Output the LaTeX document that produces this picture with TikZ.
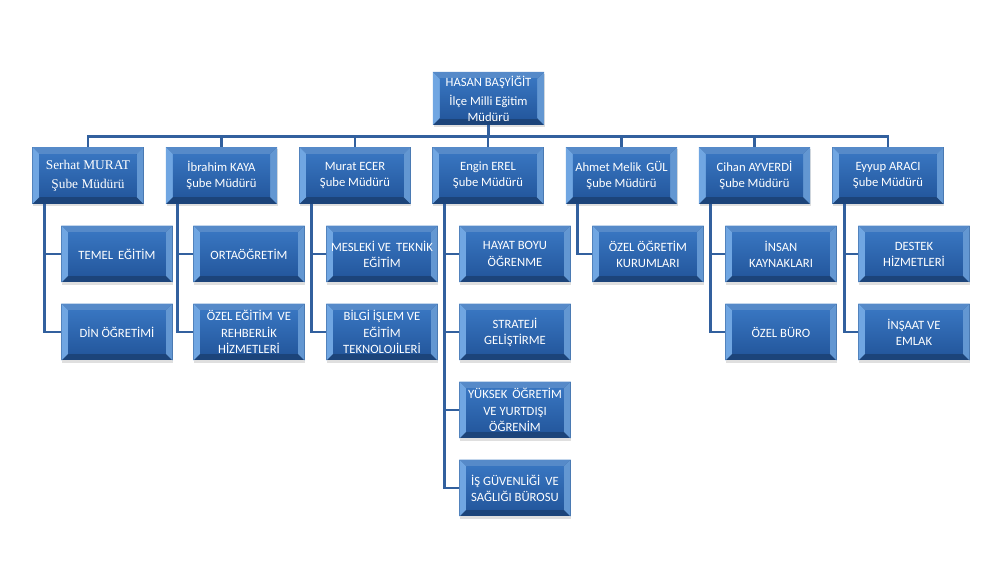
\documentclass[tikz,border=0pt]{standalone}
\usepackage{fontspec}
\setmainfont{Carlito}
\newfontfamily\timesfont{Liberation Serif}
\usetikzlibrary{shadows}

\definecolor{boxedge}{RGB}{28,68,122}
\definecolor{boxtop}{RGB}{56,117,192}
\definecolor{boxbot}{RGB}{36,88,158}
\definecolor{bevlight}{RGB}{112,166,226}
\definecolor{linkblue}{RGB}{50,96,158}

\tikzset{
  kutu/.style={fill=boxedge, text=white, align=center, inner sep=1pt,
    minimum width=2.78cm, minimum height=1.42cm,
    font=\fontsize{9}{11.5}\selectfont,
    drop shadow={opacity=0.25, shadow xshift=0.5pt, shadow yshift=-1.5pt},
    path picture={
      \path (path picture bounding box.north west) coordinate (pa)
            (path picture bounding box.south east) coordinate (pb);
      \fill[boxtop!85!white] (pa) -- (pa-|pb) -- ([shift={(-5pt,-5pt)}]pa-|pb) -- ([shift={(5pt,-5pt)}]pa) -- cycle;
      \fill[bevlight] (pa) -- ([shift={(5pt,-5pt)}]pa) -- ([shift={(5pt,5pt)}]pa|-pb) -- (pa|-pb) -- cycle;
      \fill[bevlight!85!boxedge] (pa-|pb) -- ([shift={(-5pt,-5pt)}]pa-|pb) -- ([shift={(-5pt,5pt)}]pb) -- (pb) -- cycle;
      \shade[top color=boxtop, bottom color=boxbot] ([shift={(5pt,-5pt)}]pa) rectangle ([shift={(-5pt,5pt)}]pb);
    }},
  link/.style={draw=linkblue, line width=2.1pt}
}

\begin{document}
\begin{tikzpicture}[x=0.025cm,y=-0.025cm]
            \useasboundingbox (0,0) rectangle (1002,564);
            % mudur
            \node[kutu,minimum height=1.33cm] (top) at (488.5,98.5)
            {HASAN BAŞYİĞİT\\[2pt]İlçe Milli Eğitim\\Müdürü};
            % sube mudurleri
            \node[kutu,font=\timesfont\fontsize{9.5}{13.5}\selectfont] (m1) at (88,175.5) {Serhat MURAT\\Şube Müdürü};
            \node[kutu] (m2) at (221.5,175.5) {İbrahim KAYA\\Şube Müdürü};
            \node[kutu] (m3) at (355,175.5) {Murat ECER\\Şube Müdürü};
            \node[kutu] (m4) at (488,175.5) {Engin EREL\\Şube Müdürü};
            \node[kutu] (m5) at (621.5,175.5) {Ahmet Melik\, GÜL\\Şube Müdürü};
            \node[kutu] (m6) at (754.5,175.5) {Cihan AYVERDİ\\Şube Müdürü};
            \node[kutu] (m7) at (888,175.5) {Eyyup ARACI\\Şube Müdürü};
            % birimler
            \node[kutu] (b11) at (117,254) {TEMEL\, EĞİTİM};
            \node[kutu] (b12) at (117,332) {DİN ÖĞRETİMİ};
            \node[kutu] (b21) at (249,254) {ORTAÖĞRETİM};
            \node[kutu] (b22) at (249,332) {ÖZEL EĞİTİM\, VE\\REHBERLİK\\HİZMETLERİ};
            \node[kutu] (b31) at (382,254) {MESLEKİ VE\, TEKNİK\\EĞİTİM};
            \node[kutu] (b32) at (382,332) {BİLGİ İŞLEM VE\\EĞİTİM\\TEKNOLOJİLERİ};
            \node[kutu] (b41) at (515,254) {HAYAT BOYU\\ÖĞRENME};
            \node[kutu] (b42) at (515,332) {STRATEJİ\\GELİŞTİRME};
            \node[kutu] (b43) at (515,410) {YÜKSEK\, ÖĞRETİM\\VE YURTDIŞI\\ÖĞRENİM};
            \node[kutu] (b44) at (515,488) {İŞ GÜVENLİĞİ\, VE\\SAĞLIĞI BÜROSU};
            \node[kutu] (b51) at (648,254) {ÖZEL ÖĞRETİM\\KURUMLARI};
            \node[kutu] (b61) at (781,254) {İNSAN\\KAYNAKLARI};
            \node[kutu] (b62) at (781,332) {ÖZEL BÜRO};
            \node[kutu] (b71) at (914,254) {DESTEK\\HİZMETLERİ};
            \node[kutu] (b72) at (914,332) {İNŞAAT VE\\EMLAK};
            % baglantilar
            \foreach \m in {m1,m2,m3,m4,m5,m6,m7}
              \draw[link] (top.south) -- ++(0,11) -| (\m.north);
            \draw[link] ([xshift=0.3cm]m1.south west) |- (b11.west) ([xshift=0.3cm]m1.south west) |- (b12.west);
            \draw[link] ([xshift=0.3cm]m2.south west) |- (b21.west) ([xshift=0.3cm]m2.south west) |- (b22.west);
            \draw[link] ([xshift=0.3cm]m3.south west) |- (b31.west) ([xshift=0.3cm]m3.south west) |- (b32.west);
            \draw[link] ([xshift=0.3cm]m4.south west) |- (b41.west) ([xshift=0.3cm]m4.south west) |- (b42.west)
                        ([xshift=0.3cm]m4.south west) |- (b43.west) ([xshift=0.3cm]m4.south west) |- (b44.west);
            \draw[link] ([xshift=0.3cm]m5.south west) |- (b51.west);
            \draw[link] ([xshift=0.3cm]m6.south west) |- (b61.west) ([xshift=0.3cm]m6.south west) |- (b62.west);
            \draw[link] ([xshift=0.3cm]m7.south west) |- (b71.west) ([xshift=0.3cm]m7.south west) |- (b72.west);
        \end{tikzpicture}
\end{document}
